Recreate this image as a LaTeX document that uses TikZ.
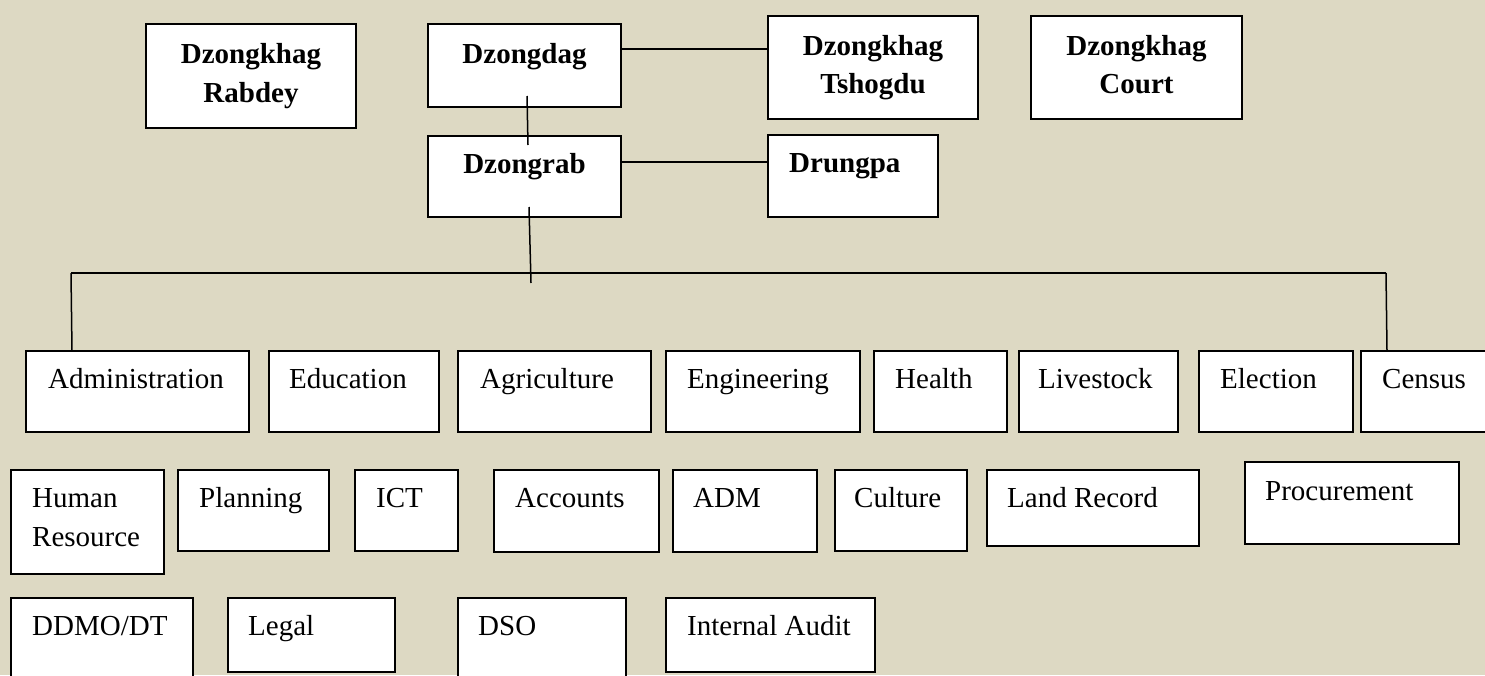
\documentclass[tikz,border=0pt]{standalone}
\usepackage{fontspec}
\setmainfont{Liberation Serif}
\usetikzlibrary{calc}
\definecolor{pagebg}{HTML}{DDD9C3}

\tikzset{
  box/.style={draw=black, fill=white, line width=1.8pt, inner sep=0pt, outer sep=0pt},
  conn/.style={draw=black, line width=1.5pt},
  tn/.style={font=\fontsize{29}{38}\selectfont, inner sep=0pt},
  tb/.style={font=\bfseries\fontsize{29}{38}\selectfont, inner sep=0pt},
}

% #1 name, (#2,#3) top-left corner, (#4,#5) bottom-right corner
\newcommand\orgbox[5]{%
  \node[box, anchor=north west,
        minimum width={(#4-#2)*1pt}, minimum height={(#5-#3)*1pt}]
        (#1) at (#2,#3) {};}
% plain label, left aligned on its baseline
\newcommand\lefttext[4]{\node[tn, anchor=base west] (#1) at (#2,#3) {#4};}
% bold label, centred on its baseline
\newcommand\midtext[4]{\node[tb, anchor=base] (#1) at (#2,#3) {#4};}

\begin{document}
\begin{tikzpicture}[x=1pt, y=-1pt]
\useasboundingbox (0,0) rectangle (1485,675);
\clip (0,0) rectangle (1485,675);
\fill[pagebg] (0,0) rectangle (1485,675);

% --- top level offices ---
\orgbox{rabdey}{146}{24}{356}{128}
\midtext{rabdey-a}{251}{63}{Dzongkhag}
\midtext{rabdey-b}{251}{102}{Rabdey}

\orgbox{dzongdag}{428}{24}{621}{107}
\midtext{dzongdag-a}{524.5}{63}{Dzongdag}

\orgbox{tshogdu}{768}{16}{978}{119}
\midtext{tshogdu-a}{873}{55}{Dzongkhag}
\midtext{tshogdu-b}{873}{93}{Tshogdu}

\orgbox{court}{1031}{16}{1242}{119}
\midtext{court-a}{1136.5}{55}{Dzongkhag}
\midtext{court-b}{1136.5}{93}{Court}

\orgbox{dzongrab}{428}{136}{621}{217}
\midtext{dzongrab-a}{524.5}{173}{Dzongrab}

\orgbox{drungpa}{768}{135}{938}{217}
\node[tb, anchor=base west] (drungpa-a) at (789,172) {Drungpa};

% --- sectors, first row ---
\orgbox{administration}{26}{351}{249}{432}
\lefttext{administration-a}{48}{388}{Administration}
\orgbox{education}{269}{351}{439}{432}
\lefttext{education-a}{289}{388}{Education}
\orgbox{agriculture}{458}{351}{651}{432}
\lefttext{agriculture-a}{480}{388}{Agriculture}
\orgbox{engineering}{666}{351}{860}{432}
\lefttext{engineering-a}{687}{388}{Engineering}
\orgbox{health}{874}{351}{1007}{432}
\lefttext{health-a}{895}{388}{Health}
\orgbox{livestock}{1019}{351}{1178}{432}
\lefttext{livestock-a}{1038}{388}{Livestock}
\orgbox{election}{1199}{351}{1353}{432}
\lefttext{election-a}{1220}{388}{Election}
\orgbox{census}{1361}{351}{1500}{432}
\lefttext{census-a}{1382}{388}{Census}

% --- sectors, second row ---
\orgbox{humanres}{11}{470}{164}{574}
\lefttext{humanres-a}{32}{507}{Human}
\lefttext{humanres-b}{32}{546}{Resource}
\orgbox{planning}{178}{470}{329}{551}
\lefttext{planning-a}{199}{507}{Planning}
\orgbox{ict}{355}{470}{458}{551}
\lefttext{ict-a}{376}{507}{ICT}
\orgbox{accounts}{494}{470}{659}{552}
\lefttext{accounts-a}{515}{507}{Accounts}
\orgbox{adm}{673}{470}{817}{552}
\lefttext{adm-a}{693}{507}{ADM}
\orgbox{culture}{835}{470}{967}{551}
\lefttext{culture-a}{854}{507}{Culture}
\orgbox{landrecord}{987}{470}{1199}{546}
\lefttext{landrecord-a}{1007}{507}{Land Record}
\orgbox{procurement}{1245}{462}{1459}{544}
\lefttext{procurement-a}{1265}{500}{Procurement}

% --- sectors, third row ---
\orgbox{ddmo}{11}{598}{193}{690}
\lefttext{ddmo-a}{32}{635}{DDMO/DT}
\orgbox{legal}{228}{598}{395}{672}
\lefttext{legal-a}{248}{635}{Legal}
\orgbox{dso}{458}{598}{626}{690}
\lefttext{dso-a}{478}{635}{DSO}
\orgbox{audit}{666}{598}{875}{672}
\lefttext{audit-a}{687}{635}{Internal Audit}

% --- connectors ---
\coordinate (lvl1) at (0,49);
\coordinate (lvl2) at (0,162);
\coordinate (busL) at (71,273);
\coordinate (busR) at (1386,273);
\coordinate (busM) at (531,283);

\draw[conn] (dzongdag.east |- lvl1) -- (tshogdu.west |- lvl1);
\draw[conn] (dzongrab.east |- lvl2) -- (drungpa.west |- lvl2);
\draw[conn] ($(dzongdag.south)+(2.5,-11)$) -- ($(dzongrab.north)+(3.5,9)$);
\draw[conn] ($(dzongrab.south)+(4.5,-10)$) -- (busM);
\draw[conn] (busL) -- (busR);
\draw[conn] (busL) -- ($(administration.north west)+(46,0)$);
\draw[conn] (busR) -- ($(census.north west)+(26,0)$);
\end{tikzpicture}
\end{document}
